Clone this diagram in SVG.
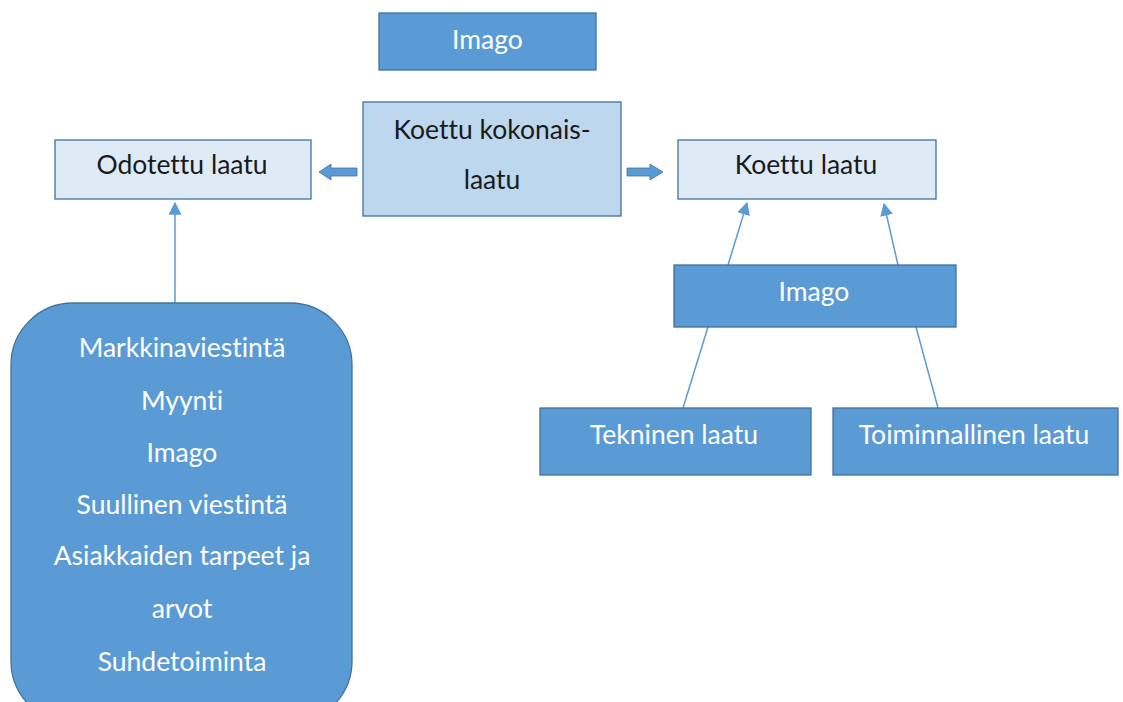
<svg xmlns="http://www.w3.org/2000/svg" width="1123" height="702" viewBox="0 0 1123 702">
<style>
.dark{fill:#5B9BD5;stroke:#41719C;stroke-width:1.3}
.mid{fill:#BDD7EE;stroke:#41719C;stroke-width:1.3}
.light{fill:#DEEBF7;stroke:#41719C;stroke-width:1.3}
text{font-family:Lato,"Open Sans",sans-serif;font-size:26.5px;text-anchor:middle;dominant-baseline:central;font-variant-ligatures:none}
.w{fill:#FFFFFF}
.k{fill:#1a1a1a}
.ln2{stroke:#5B9BD5;stroke-width:1.5;fill:none}
.blk{fill:#5B9BD5;stroke:#41719C;stroke-width:0.8}
</style>
<defs>
<marker id="ah2" viewBox="0 0 10 10" refX="9" refY="5" markerWidth="13" markerHeight="13" markerUnits="userSpaceOnUse" orient="auto"><path d="M0,0 L10,5 L0,10 Z" fill="#5B9BD5"/></marker>
</defs>
<g id="connectors">
<path class="blk" d="M357,168 L331,168 L331,164 L319,172 L331,180 L331,176 L357,176 Z"/>
<path class="blk" d="M627,168 L650,168 L650,164 L663,172 L650,180 L650,176 L627,176 Z"/>
<line x1="175" y1="303" x2="175" y2="203" stroke="#5B9BD5" stroke-width="1.5" marker-end="url(#ah2)"/>
<line x1="728" y1="265" x2="747" y2="203" stroke="#5B9BD5" stroke-width="1.5" marker-end="url(#ah2)"/>
<line x1="898" y1="265" x2="884" y2="204" stroke="#5B9BD5" stroke-width="1.5" marker-end="url(#ah2)"/>
<line class="ln2" x1="683" y1="408" x2="708" y2="327"/>
<line class="ln2" x1="938" y1="408" x2="916" y2="327"/>
</g>
<g id="imago-top"><rect class="dark" x="379" y="13" width="217" height="57"/><text class="w" x="487.5" y="39">Imago</text></g>
<g id="koettu-kokonaislaatu"><rect class="mid" x="363" y="102" width="258" height="114"/><text class="k" x="492" y="129">Koettu kokonais-</text><text class="k" x="492" y="179">laatu</text></g>
<g id="odotettu-laatu"><rect class="light" x="55" y="140" width="256" height="59"/><text class="k" x="182" y="164">Odotettu laatu</text></g>
<g id="koettu-laatu"><rect class="light" x="678" y="140" width="258" height="59"/><text class="k" x="806" y="164">Koettu laatu</text></g>
<g id="imago-right"><rect class="dark" x="674" y="265" width="282" height="62"/><text class="w" x="814" y="291">Imago</text></g>
<g id="tekninen-laatu"><rect class="dark" x="540" y="408" width="271" height="67"/><text class="w" x="674" y="434">Tekninen laatu</text></g>
<g id="toiminnallinen-laatu"><rect class="dark" x="833" y="408" width="285" height="67"/><text class="w" x="974" y="434">Toiminnallinen laatu</text></g>
<g id="tekijat"><rect class="dark" x="11" y="303" width="341" height="420" rx="62" ry="62"/>
<text class="w" x="182" y="347">Markkinaviestintä</text>
<text class="w" x="182" y="400">Myynti</text>
<text class="w" x="182" y="452">Imago</text>
<text class="w" x="182" y="504">Suullinen viestintä</text>
<text class="w" x="182" y="555">Asiakkaiden tarpeet ja</text>
<text class="w" x="182" y="608">arvot</text>
<text class="w" x="182" y="661">Suhdetoiminta</text>
</g>
</svg>
